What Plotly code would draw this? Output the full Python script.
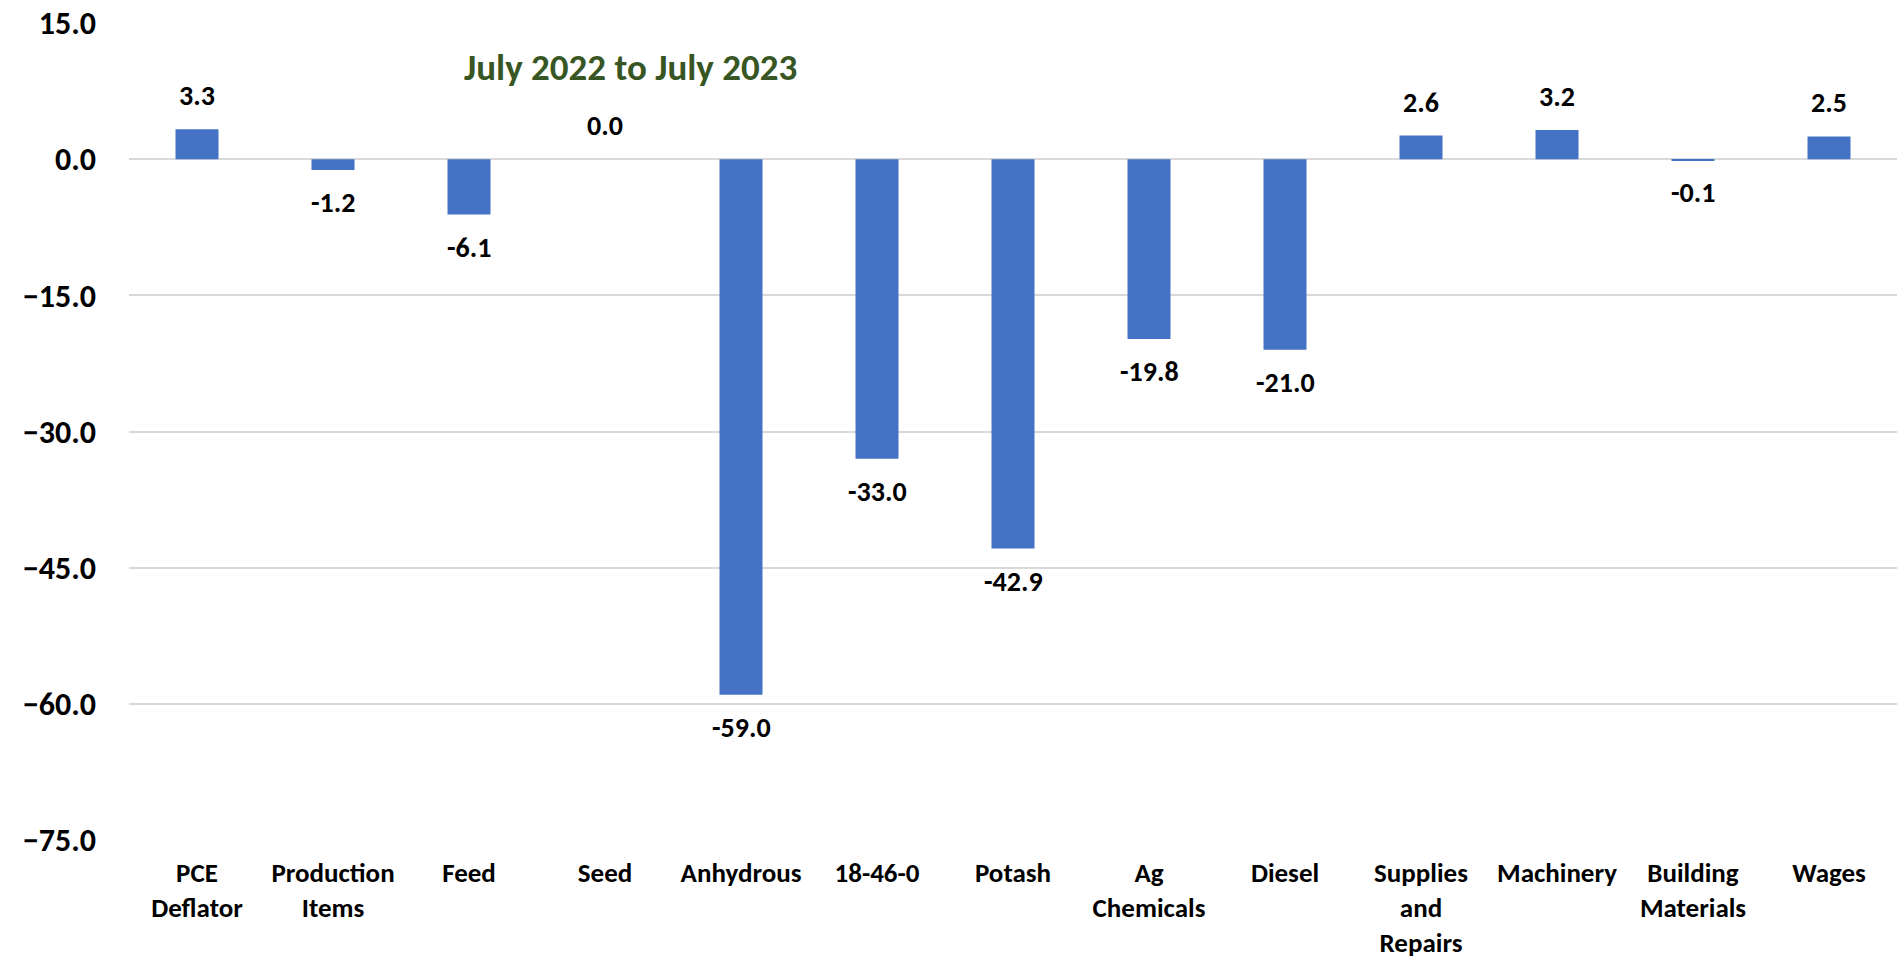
import plotly.graph_objects as go

categories = ["PCE<br>Deflator", "Production<br>Items", "Feed", "Seed", "Anhydrous",
              "18-46-0", "Potash", "Ag<br>Chemicals", "Diesel", "Supplies<br>and<br>Repairs",
              "Machinery", "Building<br>Materials", "Wages"]
values = [3.3, -1.2, -6.1, 0.0, -59.0, -33.0, -42.9, -19.8, -21.0, 2.6, 3.2, -0.1, 2.5]
tick_vals = [15, 0, -15, -30, -45, -60, -75]
title_text = "July 2022 to July 2023"

FONT = "Carlito, Lato, sans-serif"

fig = go.Figure()
fig.add_trace(go.Bar(x=categories, y=values, marker=dict(color="#4472C4", line=dict(width=0)),
                     hoverinfo="x+y"))

for c, v in zip(categories, values):
    pos = v >= 0
    fig.add_annotation(x=c, y=v, text=f"{v:.1f}", showarrow=False,
                       xanchor="center", yanchor="bottom" if pos else "top",
                       yshift=14 if pos else -13,
                       font=dict(family=FONT, size=28, color="#000000", weight=700))

fig.add_annotation(xref="paper", yref="paper", x=(630 - 129) / 1768, y=(840 - 68) / 817,
                   text=title_text, showarrow=False, xanchor="center", yanchor="middle",
                   font=dict(family=FONT, size=37, color="#375623", weight=700))

fig.update_layout(
    width=1901, height=963,
    margin=dict(l=129, r=4, t=23, b=123, pad=0, autoexpand=False),
    paper_bgcolor="white", plot_bgcolor="white",
    bargap=0.684, showlegend=False,
    font=dict(family=FONT, color="#000000"),
)
fig.update_xaxes(showline=False, showgrid=False, ticks="", tickangle=0,
                 ticklabelstandoff=14, automargin=False,
                 tickfont=dict(family=FONT, size=27, color="#000000", weight=700))
fig.update_yaxes(range=[-75, 15], tickvals=tick_vals, tickformat=".1f",
                 showgrid=True, gridcolor="#d9d9d9", gridwidth=2,
                 zeroline=True, zerolinecolor="#d9d9d9", zerolinewidth=2,
                 showline=False, ticks="", ticklabelstandoff=32, automargin=False,
                 tickfont=dict(family=FONT, size=32, color="#000000", weight=700))

fig.write_html("out.html")
